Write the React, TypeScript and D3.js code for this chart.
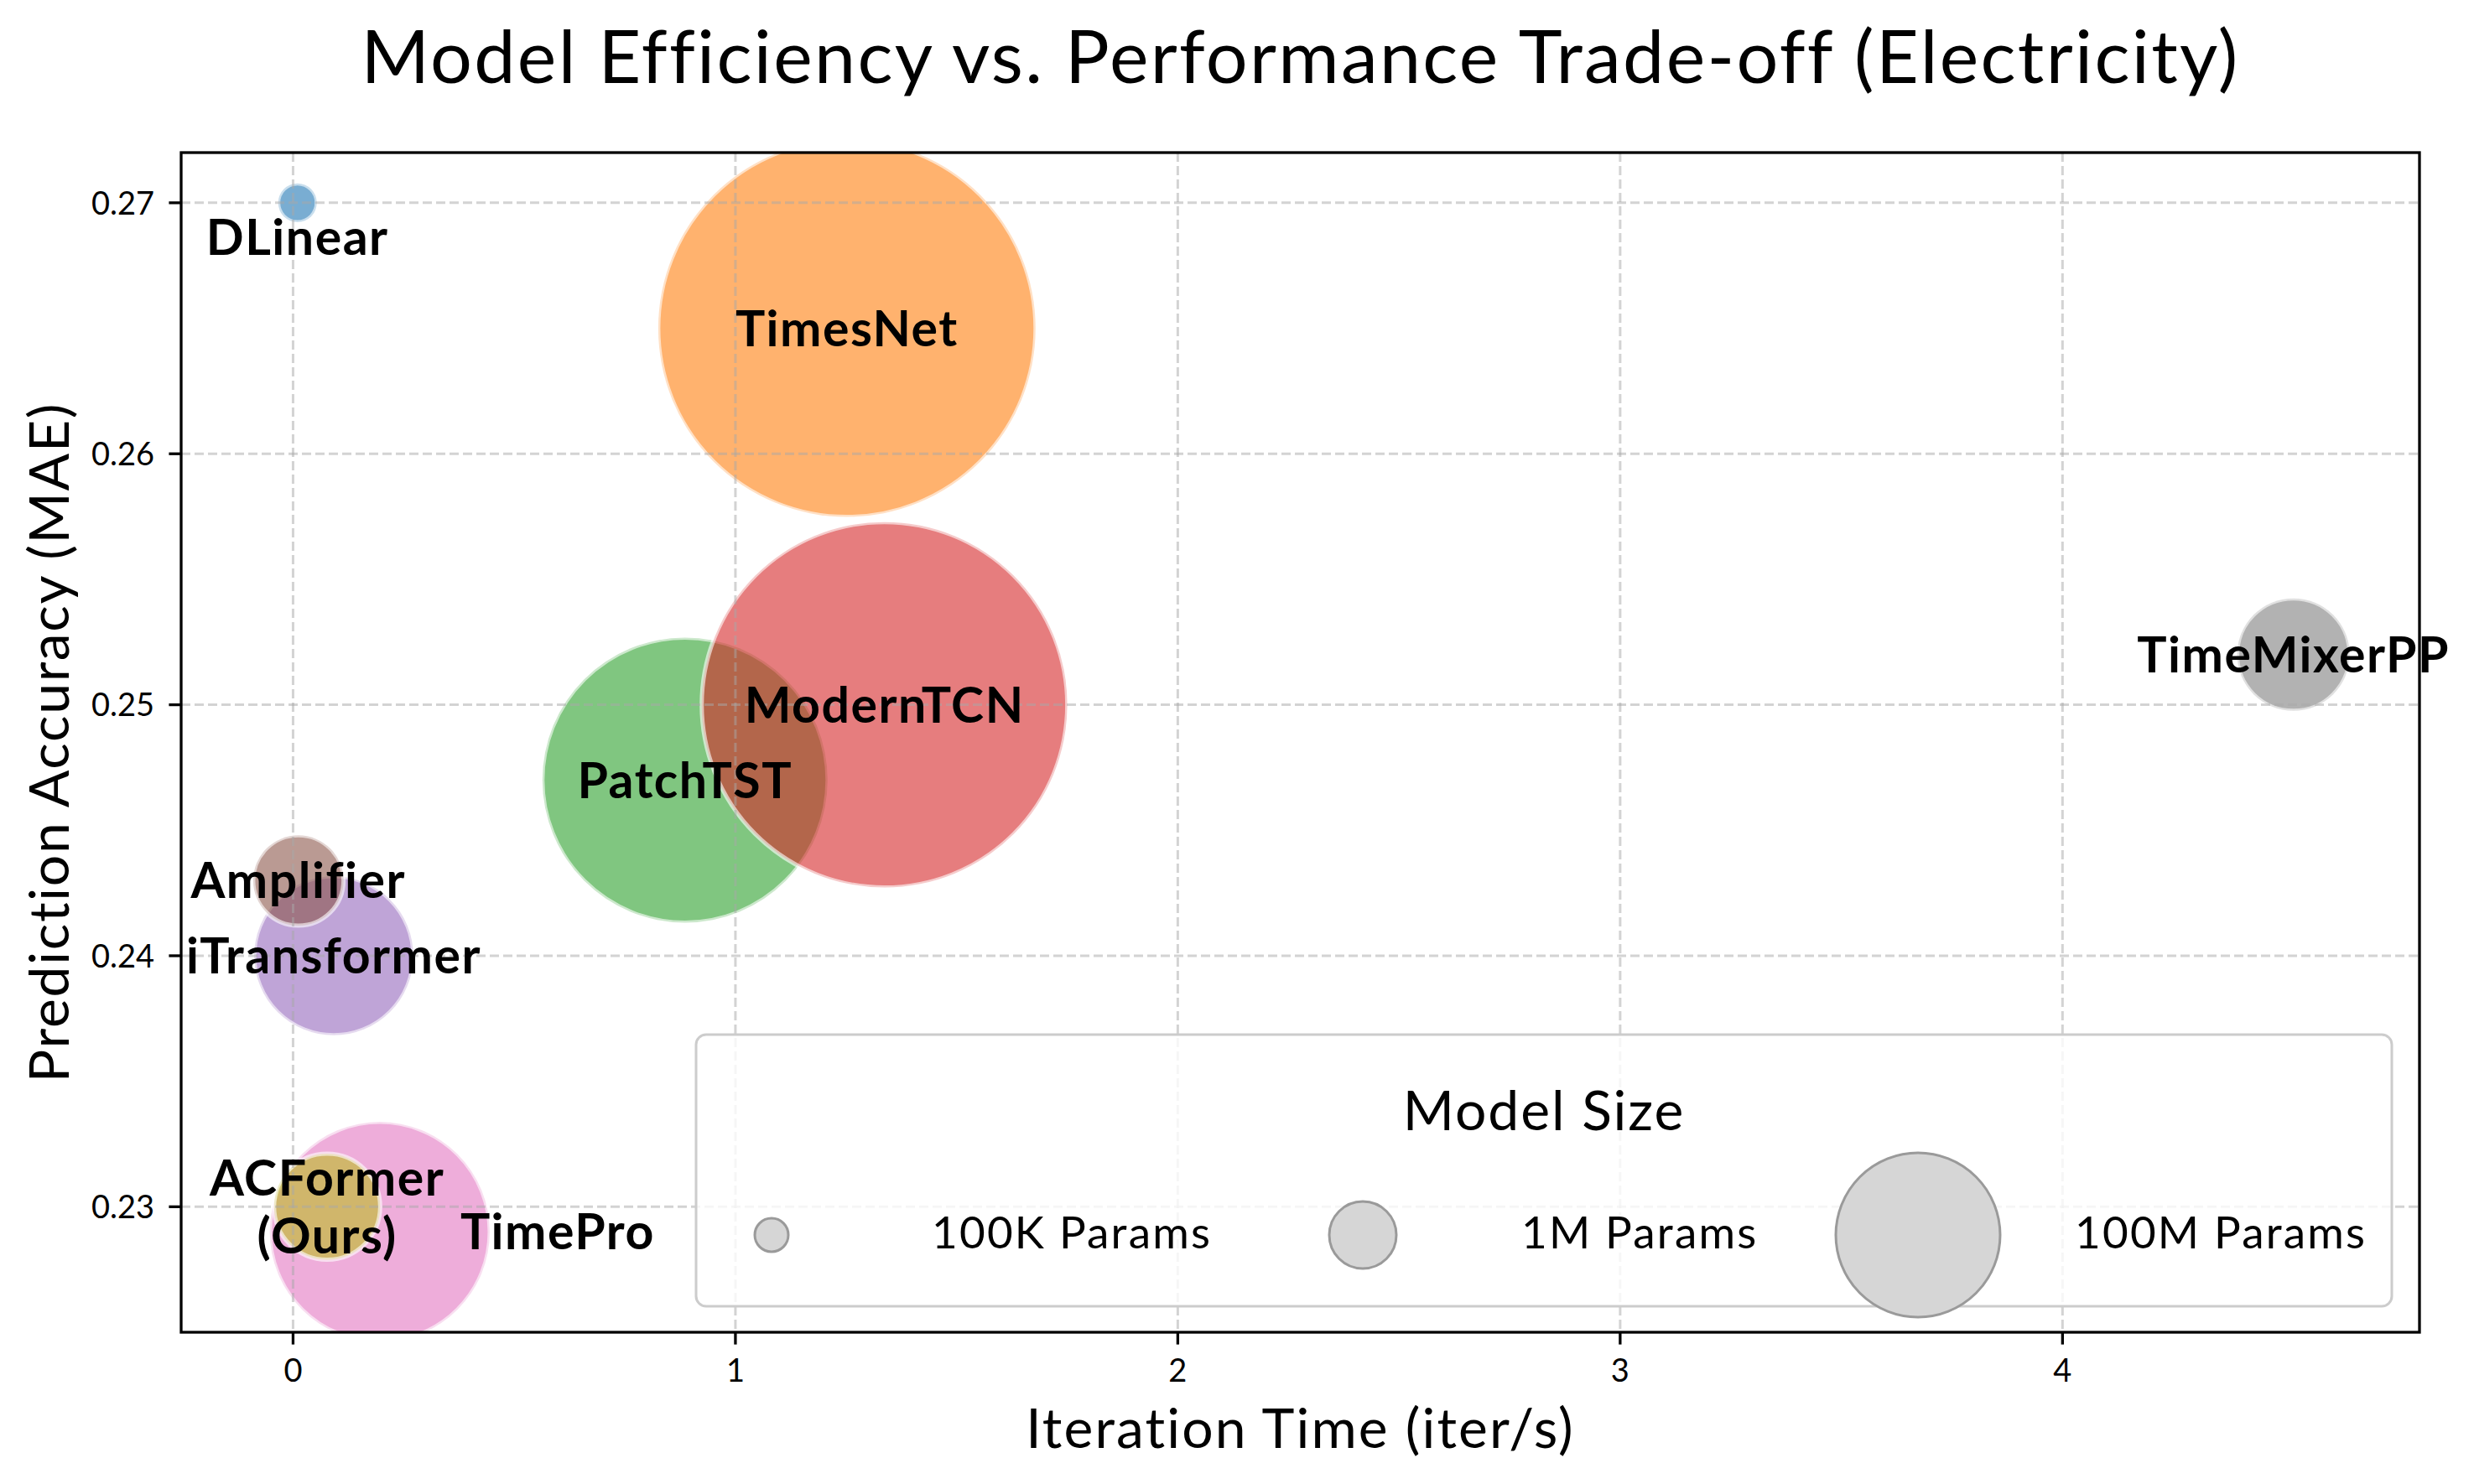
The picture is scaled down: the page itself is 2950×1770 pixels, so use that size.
import React, { useRef, useEffect } from "react";
import * as d3 from "d3";

// data
const models = [
  "DLinear",
  "TimesNet",
  "PatchTST",
  "ModernTCN",
  "iTransformer",
  "Amplifier",
  "TimePro",
  "TimeMixerPP",
  "ACFormer\n(Ours)",
];
const iterTime = [0.01, 1.252, 0.886, 1.337, 0.092, 0.012, 0.196, 4.522, 0.077];
const mae = [0.27, 0.265, 0.247, 0.25, 0.24, 0.243, 0.229, 0.252, 0.23];
// bubble area (px^2)
const bubbleSize = [530, 50600, 28900, 47500, 9000, 2900, 17200, 4500, 4000];
const colors = [
  "#1f77b4",
  "#ff7f0e",
  "#2ca02c",
  "#d62728",
  "#9467bd",
  "#8c564b",
  "#e377c2",
  "#7f7f7f",
  "#bcbd22",
];

const xTicks = [0, 1, 2, 3, 4];
const yTicks = [0.23, 0.24, 0.25, 0.26, 0.27];

const legendLabels = ["100K Params", "1M Params", "100M Params"];
const legendSizes = [400, 1600, 9600];

const W = 2950;
const H = 1770;
const FONT = "Lato, 'Open Sans', sans-serif";

const App = () => {
  const chartRef = useRef<HTMLDivElement>(null);

  useEffect(() => {
    const plot = { left: 216, right: 2885, top: 182, bottom: 1589 };

    const svg = d3
      .select(chartRef.current)
      .append("svg")
      .attr("width", W)
      .attr("height", H)
      .style("display", "block")
      .style("background", "#fff");

    const x = d3.scaleLinear().domain([-0.253, 4.807]).range([plot.left, plot.right]);
    const y = d3.scaleLinear().domain([0.225, 0.272]).range([plot.bottom, plot.top]);
    const r = d3.scaleSqrt().domain([0, 10000]).range([0, 100]);

    svg
      .append("defs")
      .append("clipPath")
      .attr("id", "plot-clip")
      .append("rect")
      .attr("x", plot.left)
      .attr("y", plot.top)
      .attr("width", plot.right - plot.left)
      .attr("height", plot.bottom - plot.top);

    const data = models.map((m, i) => ({
      name: m,
      x: iterTime[i],
      y: mae[i],
      s: bubbleSize[i],
      color: colors[i],
    }));

    // bubbles
    svg
      .append("g")
      .attr("clip-path", "url(#plot-clip)")
      .selectAll("circle")
      .data(data)
      .enter()
      .append("circle")
      .attr("cx", (d) => x(d.x))
      .attr("cy", (d) => y(d.y))
      .attr("r", (d) => r(d.s))
      .attr("fill", (d) => d.color)
      .attr("fill-opacity", 0.6)
      .attr("stroke", "#fff")
      .attr("stroke-opacity", 0.6)
      .attr("stroke-width", 5);

    // grid on top of bubbles (matplotlib default)
    const grid = svg
      .append("g")
      .attr("stroke", "#a8a8a8")
      .attr("stroke-opacity", 0.5)
      .attr("stroke-width", 3)
      .attr("stroke-dasharray", "11 5");
    grid
      .selectAll(".gx")
      .data(xTicks)
      .enter()
      .append("line")
      .attr("x1", (d) => x(d))
      .attr("x2", (d) => x(d))
      .attr("y1", plot.top)
      .attr("y2", plot.bottom);
    grid
      .selectAll(".gy")
      .data(yTicks)
      .enter()
      .append("line")
      .attr("x1", plot.left)
      .attr("x2", plot.right)
      .attr("y1", (d) => y(d))
      .attr("y2", (d) => y(d));

    // spines
    svg
      .append("rect")
      .attr("x", plot.left)
      .attr("y", plot.top)
      .attr("width", plot.right - plot.left)
      .attr("height", plot.bottom - plot.top)
      .attr("fill", "none")
      .attr("stroke", "#000")
      .attr("stroke-width", 3.3);

    // ticks
    const xAxis = svg.append("g");
    xAxis
      .selectAll("line")
      .data(xTicks)
      .enter()
      .append("line")
      .attr("x1", (d) => x(d))
      .attr("x2", (d) => x(d))
      .attr("y1", plot.bottom)
      .attr("y2", plot.bottom + 14.6)
      .attr("stroke", "#000")
      .attr("stroke-width", 3.3);
    xAxis
      .selectAll("text")
      .data(xTicks)
      .enter()
      .append("text")
      .attr("x", (d) => x(d))
      .attr("y", 1648)
      .attr("text-anchor", "middle")
      .style("font-family", FONT)
      .style("font-size", "38px")
      .text((d) => d3.format("d")(d));

    const yAxis = svg.append("g");
    yAxis
      .selectAll("line")
      .data(yTicks)
      .enter()
      .append("line")
      .attr("x1", plot.left - 14.6)
      .attr("x2", plot.left)
      .attr("y1", (d) => y(d))
      .attr("y2", (d) => y(d))
      .attr("stroke", "#000")
      .attr("stroke-width", 3.3);
    yAxis
      .selectAll("text")
      .data(yTicks)
      .enter()
      .append("text")
      .attr("x", 184)
      .attr("y", (d) => y(d))
      .attr("dy", "0.36em")
      .attr("text-anchor", "end")
      .style("font-family", FONT)
      .style("font-size", "38px")
      .text((d) => d3.format(".2f")(d));

    // bubble labels
    const labelOffset: Record<string, [number, number]> = {
      DLinear: [0, 41],
      TimePro: [212, 0],
    };
    const labelFont = 59;
    const lineGap = 69;
    const labels = svg
      .append("g")
      .style("font-family", FONT)
      .style("font-weight", 700)
      .style("font-size", `${labelFont}px`)
      .style("letter-spacing", "1.5px")
      .attr("text-anchor", "middle");
    data.forEach((d) => {
      const [ox, oy] = labelOffset[d.name] || [0, 0];
      const lines = d.name.split("\n");
      const cx = x(d.x) + ox;
      const cy = y(d.y) + oy;
      const first = cy - ((lines.length - 1) * lineGap) / 2 + labelFont * 0.358;
      const t = labels.append("text").attr("x", cx).attr("y", first);
      lines.forEach((line, i) => {
        t.append("tspan")
          .attr("x", cx)
          .attr("y", first + i * lineGap)
          .text(line);
      });
    });

    // legend
    const leg = { x: 830, y: 1234, w: 2022, h: 324 };
    const legend = svg.append("g");
    legend
      .append("rect")
      .attr("x", leg.x)
      .attr("y", leg.y)
      .attr("width", leg.w)
      .attr("height", leg.h)
      .attr("rx", 12)
      .attr("fill", "#fff")
      .attr("fill-opacity", 0.8)
      .attr("stroke", "#cccccc")
      .attr("stroke-width", 3);
    legend
      .append("text")
      .attr("x", leg.x + leg.w / 2)
      .attr("y", 1348)
      .attr("text-anchor", "middle")
      .style("font-family", FONT)
      .style("font-size", "66px")
      .style("letter-spacing", "1.9px")
      .text("Model Size");
    const markerX = [920, 1625, 2287];
    const labelX = [1111, 1814, 2474];
    const rowY = 1473;
    legendLabels.forEach((lab, i) => {
      legend
        .append("circle")
        .attr("cx", markerX[i])
        .attr("cy", rowY)
        .attr("r", r(legendSizes[i]))
        .attr("fill", "#d6d6d6")
        .attr("stroke", "#9a9a9a")
        .attr("stroke-width", 3);
      legend
        .append("text")
        .attr("x", labelX[i])
        .attr("y", 1489)
        .style("font-family", FONT)
        .style("font-size", "53px")
        .style("letter-spacing", "2.2px")
        .text(lab);
    });

    // title & axis labels
    svg
      .append("text")
      .attr("x", (plot.left + plot.right) / 2)
      .attr("y", 99)
      .attr("text-anchor", "middle")
      .style("font-family", FONT)
      .style("font-size", "88px")
      .style("letter-spacing", "2.3px")
      .text("Model Efficiency vs. Performance Trade-off (Electricity)");

    svg
      .append("text")
      .attr("x", (plot.left + plot.right) / 2)
      .attr("y", 1727)
      .attr("text-anchor", "middle")
      .style("font-family", FONT)
      .style("font-size", "66px")
      .style("letter-spacing", "2.1px")
      .text("Iteration Time (iter/s)");

    svg
      .append("text")
      .attr("transform", `translate(82,${(plot.top + plot.bottom) / 2}) rotate(-90)`)
      .attr("text-anchor", "middle")
      .style("font-family", FONT)
      .style("font-size", "66px")
      .style("letter-spacing", "1.7px")
      .text("Prediction Accuracy (MAE)");

    return () => {
      if (chartRef.current) chartRef.current.innerHTML = "";
    };
  }, []);

  return (
    <div
      ref={chartRef}
      style={{ position: "absolute", left: 0, top: 0, width: W, height: H }}
    ></div>
  );
};

export default App;
